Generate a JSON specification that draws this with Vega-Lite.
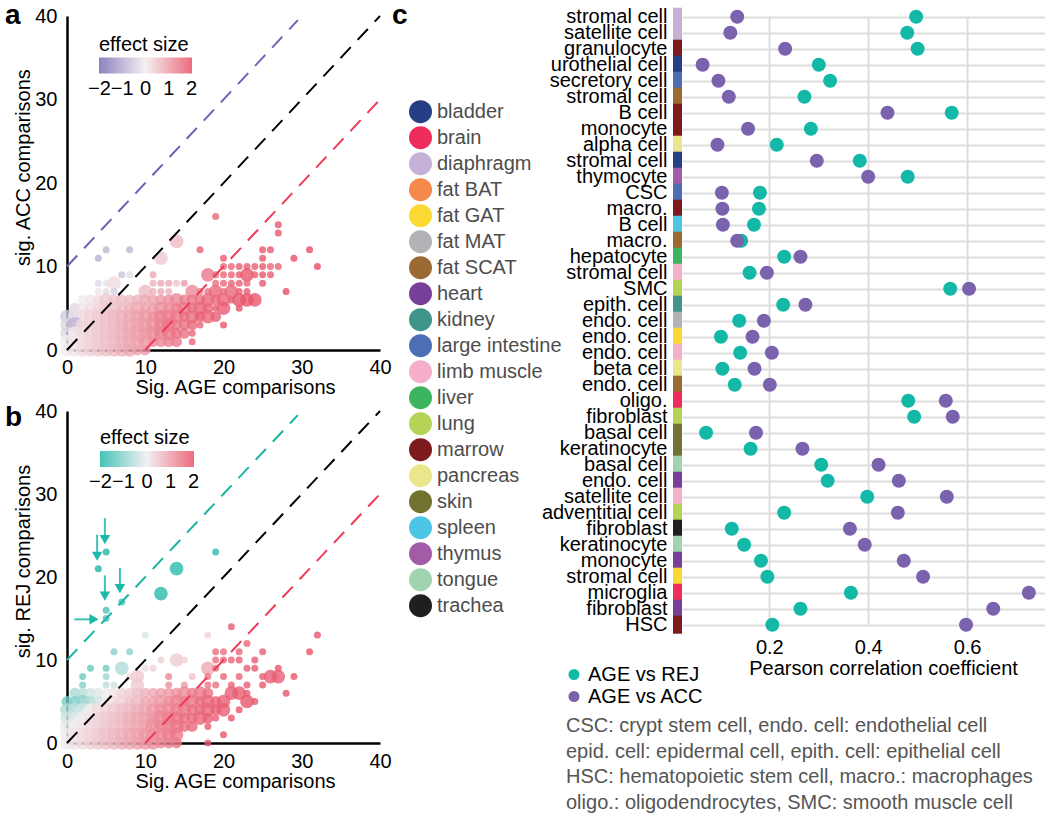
{
  "$schema": "https://vega.github.io/schema/vega-lite/v6.json",
  "padding": {"left": 5, "top": 2, "right": 0, "bottom": 0},
  "config": {
    "font": "Liberation Sans",
    "view": {"stroke": null},
    "axis": {"labelFont": "Liberation Sans", "titleFont": "Liberation Sans", "labelFontSize": 20, "titleFontSize": 20, "titleFontWeight": "normal", "labelColor": "#000000", "titleColor": "#000000", "ticks": false, "tickSize": 0, "grid": false},
    "legend": {"labelFont": "Liberation Sans", "titleFont": "Liberation Sans", "padding": 0},
    "title": {"font": "Liberation Sans"}
  },
  "datasets": {
    "cells": [
      {"row": 1, "cell": "stromal cell", "tissue": "diaphragm", "AGE vs REJ": 0.497, "AGE vs ACC": 0.135},
      {"row": 2, "cell": "satellite cell", "tissue": "diaphragm", "AGE vs REJ": 0.479, "AGE vs ACC": 0.121},
      {"row": 3, "cell": "granulocyte", "tissue": "marrow", "AGE vs REJ": 0.500, "AGE vs ACC": 0.232},
      {"row": 4, "cell": "urothelial cell", "tissue": "bladder", "AGE vs REJ": 0.300, "AGE vs ACC": 0.065},
      {"row": 5, "cell": "secretory cell", "tissue": "large intestine", "AGE vs REJ": 0.323, "AGE vs ACC": 0.097},
      {"row": 6, "cell": "stromal cell", "tissue": "fat SCAT", "AGE vs REJ": 0.271, "AGE vs ACC": 0.118},
      {"row": 7, "cell": "B cell", "tissue": "marrow", "AGE vs REJ": 0.569, "AGE vs ACC": 0.439},
      {"row": 8, "cell": "monocyte", "tissue": "marrow", "AGE vs REJ": 0.284, "AGE vs ACC": 0.157},
      {"row": 9, "cell": "alpha cell", "tissue": "pancreas", "AGE vs REJ": 0.215, "AGE vs ACC": 0.095},
      {"row": 10, "cell": "stromal cell", "tissue": "bladder", "AGE vs REJ": 0.383, "AGE vs ACC": 0.296},
      {"row": 11, "cell": "thymocyte", "tissue": "thymus", "AGE vs REJ": 0.480, "AGE vs ACC": 0.400},
      {"row": 12, "cell": "CSC", "tissue": "large intestine", "AGE vs REJ": 0.181, "AGE vs ACC": 0.104},
      {"row": 13, "cell": "macro.", "tissue": "marrow", "AGE vs REJ": 0.179, "AGE vs ACC": 0.105},
      {"row": 14, "cell": "B cell", "tissue": "spleen", "AGE vs REJ": 0.169, "AGE vs ACC": 0.106},
      {"row": 15, "cell": "macro.", "tissue": "fat SCAT", "AGE vs REJ": 0.143, "AGE vs ACC": 0.135},
      {"row": 16, "cell": "hepatocyte", "tissue": "liver", "AGE vs REJ": 0.230, "AGE vs ACC": 0.263},
      {"row": 17, "cell": "stromal cell", "tissue": "limb muscle", "AGE vs REJ": 0.160, "AGE vs ACC": 0.195},
      {"row": 18, "cell": "SMC", "tissue": "lung", "AGE vs REJ": 0.566, "AGE vs ACC": 0.604},
      {"row": 19, "cell": "epith. cell", "tissue": "kidney", "AGE vs REJ": 0.228, "AGE vs ACC": 0.273},
      {"row": 20, "cell": "endo. cell", "tissue": "fat MAT", "AGE vs REJ": 0.139, "AGE vs ACC": 0.189},
      {"row": 21, "cell": "endo. cell", "tissue": "fat GAT", "AGE vs REJ": 0.102, "AGE vs ACC": 0.166},
      {"row": 22, "cell": "endo. cell", "tissue": "limb muscle", "AGE vs REJ": 0.141, "AGE vs ACC": 0.205},
      {"row": 23, "cell": "beta cell", "tissue": "pancreas", "AGE vs REJ": 0.105, "AGE vs ACC": 0.170},
      {"row": 24, "cell": "endo. cell", "tissue": "fat SCAT", "AGE vs REJ": 0.130, "AGE vs ACC": 0.201},
      {"row": 25, "cell": "oligo.", "tissue": "brain", "AGE vs REJ": 0.481, "AGE vs ACC": 0.557},
      {"row": 26, "cell": "fibroblast", "tissue": "lung", "AGE vs REJ": 0.493, "AGE vs ACC": 0.571},
      {"row": 27, "cell": "basal cell", "tissue": "skin", "AGE vs REJ": 0.072, "AGE vs ACC": 0.173},
      {"row": 28, "cell": "keratinocyte", "tissue": "skin", "AGE vs REJ": 0.162, "AGE vs ACC": 0.267},
      {"row": 29, "cell": "basal cell", "tissue": "tongue", "AGE vs REJ": 0.305, "AGE vs ACC": 0.421},
      {"row": 30, "cell": "endo. cell", "tissue": "heart", "AGE vs REJ": 0.318, "AGE vs ACC": 0.462},
      {"row": 31, "cell": "satellite cell", "tissue": "limb muscle", "AGE vs REJ": 0.398, "AGE vs ACC": 0.559},
      {"row": 32, "cell": "adventitial cell", "tissue": "lung", "AGE vs REJ": 0.230, "AGE vs ACC": 0.460},
      {"row": 33, "cell": "fibroblast", "tissue": "trachea", "AGE vs REJ": 0.124, "AGE vs ACC": 0.363},
      {"row": 34, "cell": "keratinocyte", "tissue": "tongue", "AGE vs REJ": 0.149, "AGE vs ACC": 0.393},
      {"row": 35, "cell": "monocyte", "tissue": "heart", "AGE vs REJ": 0.183, "AGE vs ACC": 0.472},
      {"row": 36, "cell": "stromal cell", "tissue": "fat GAT", "AGE vs REJ": 0.196, "AGE vs ACC": 0.511},
      {"row": 37, "cell": "microglia", "tissue": "brain", "AGE vs REJ": 0.365, "AGE vs ACC": 0.725},
      {"row": 38, "cell": "fibroblast", "tissue": "heart", "AGE vs REJ": 0.263, "AGE vs ACC": 0.653},
      {"row": 39, "cell": "HSC", "tissue": "marrow", "AGE vs REJ": 0.206, "AGE vs ACC": 0.598}
    ],
    "pa": [
      {"x":19,"y":16,"e":1.6,"n":1},{"x":27,"y":15,"e":1.8,"n":1},{"x":27,"y":14,"e":1.8,"n":1},{"x":14,"y":13,"e":0.6,"n":3},
      {"x":5,"y":12,"e":-0.8,"n":1},{"x":8,"y":12,"e":-0.8,"n":1},{"x":17,"y":12,"e":1.7,"n":1},{"x":25,"y":12,"e":1.8,"n":1},{"x":26,"y":12,"e":1.8,"n":1},{"x":31,"y":12,"e":1.9,"n":1},
      {"x":4,"y":11,"e":-0.9,"n":1},{"x":12,"y":11,"e":0.4,"n":3},{"x":20,"y":11,"e":1.7,"n":1},{"x":25,"y":11,"e":1.8,"n":1},{"x":29,"y":11,"e":1.9,"n":1},
      {"x":32,"y":10,"e":1.9,"n":1},{"x":20,"y":10,"e":1.6,"n":1},{"x":21,"y":10,"e":1.6,"n":1},{"x":22,"y":10,"e":1.7,"n":1},{"x":23,"y":10,"e":1.7,"n":1},{"x":24,"y":10,"e":1.7,"n":1},{"x":25,"y":10,"e":1.8,"n":1},{"x":26,"y":10,"e":1.6,"n":1},{"x":27,"y":10,"e":1.6,"n":1},
      {"x":7,"y":9,"e":-0.6,"n":1},{"x":8,"y":9,"e":-0.2,"n":1},{"x":11,"y":9,"e":0.8,"n":1},{"x":18,"y":9,"e":1.4,"n":3},{"x":19,"y":9,"e":1.5,"n":1},{"x":20,"y":9,"e":1.6,"n":1},{"x":21,"y":9,"e":1.6,"n":1},{"x":22,"y":9,"e":1.7,"n":1},{"x":23,"y":9,"e":1.8,"n":3},{"x":24,"y":9,"e":1.7,"n":1},{"x":25,"y":9,"e":1.8,"n":1},{"x":26,"y":9,"e":1.7,"n":1},
      {"x":4,"y":8,"e":-0.3,"n":1},{"x":5,"y":8,"e":-0.1,"n":1},{"x":6,"y":8,"e":0.2,"n":3},{"x":11,"y":8,"e":0.7,"n":1},{"x":12,"y":8,"e":0.8,"n":1},{"x":13,"y":8,"e":0.8,"n":1},{"x":14,"y":8,"e":0.5,"n":1},{"x":15,"y":8,"e":1.0,"n":1},{"x":19,"y":8,"e":1.5,"n":1},{"x":20,"y":8,"e":1.6,"n":1},{"x":21,"y":8,"e":1.6,"n":1},{"x":22,"y":8,"e":1.7,"n":1},{"x":23,"y":8,"e":1.6,"n":1},{"x":25,"y":8,"e":1.8,"n":1},
      {"x":4,"y":7,"e":-0.1,"n":1},{"x":5,"y":7,"e":-0.2,"n":1},{"x":6,"y":7,"e":-0.4,"n":1},{"x":10,"y":7,"e":0.6,"n":3},{"x":11,"y":7,"e":0.7,"n":1},{"x":12,"y":7,"e":0.8,"n":1},{"x":13,"y":7,"e":0.7,"n":1},{"x":16,"y":7,"e":1.2,"n":3},{"x":17,"y":7,"e":1.3,"n":1},{"x":18,"y":7,"e":1.4,"n":1},{"x":19,"y":7,"e":1.6,"n":3},{"x":20,"y":7,"e":1.5,"n":1},{"x":21,"y":7,"e":1.6,"n":3},{"x":22,"y":7,"e":1.7,"n":1},{"x":23,"y":7,"e":1.7,"n":1},{"x":28,"y":7,"e":1.9,"n":1},
      {"x":2,"y":6,"e":0.0,"n":2},{"x":3,"y":6,"e":0.1,"n":2},{"x":4,"y":6,"e":0.2,"n":2},{"x":5,"y":6,"e":0.4,"n":3},{"x":6,"y":6,"e":0.5,"n":2},{"x":7,"y":6,"e":0.6,"n":2},{"x":8,"y":6,"e":0.6,"n":2},{"x":9,"y":6,"e":0.7,"n":2},{"x":10,"y":6,"e":0.8,"n":2},{"x":11,"y":6,"e":0.9,"n":2},{"x":12,"y":6,"e":1.0,"n":2},{"x":13,"y":6,"e":1.1,"n":2},{"x":14,"y":6,"e":1.2,"n":3},{"x":15,"y":6,"e":1.3,"n":2},{"x":16,"y":6,"e":1.4,"n":2},{"x":17,"y":6,"e":1.5,"n":2},{"x":18,"y":6,"e":1.6,"n":3},{"x":19,"y":6,"e":1.5,"n":2},{"x":20,"y":6,"e":1.6,"n":3},{"x":21,"y":6,"e":1.7,"n":1},{"x":22,"y":6,"e":1.8,"n":3},{"x":23,"y":6,"e":1.8,"n":3},{"x":24,"y":6,"e":1.8,"n":3},
      {"x":1,"y":5,"e":-0.3,"n":2},{"x":2,"y":5,"e":0.1,"n":2},{"x":3,"y":5,"e":0.2,"n":2},{"x":4,"y":5,"e":0.3,"n":2},{"x":5,"y":5,"e":0.4,"n":3},{"x":6,"y":5,"e":0.5,"n":3},{"x":7,"y":5,"e":0.6,"n":2},{"x":8,"y":5,"e":0.7,"n":2},{"x":9,"y":5,"e":0.8,"n":3},{"x":10,"y":5,"e":0.9,"n":2},{"x":11,"y":5,"e":1.0,"n":2},{"x":12,"y":5,"e":1.1,"n":3},{"x":13,"y":5,"e":1.2,"n":2},{"x":14,"y":5,"e":1.3,"n":2},{"x":15,"y":5,"e":1.4,"n":3},{"x":16,"y":5,"e":1.5,"n":2},{"x":17,"y":5,"e":1.6,"n":3},{"x":18,"y":5,"e":1.6,"n":2},{"x":19,"y":5,"e":1.7,"n":1},{"x":20,"y":5,"e":1.7,"n":3},{"x":22,"y":5,"e":1.8,"n":1},
      {"x":0,"y":4,"e":-0.5,"n":3},{"x":1,"y":4,"e":-0.2,"n":3},{"x":2,"y":4,"e":0.2,"n":3},{"x":3,"y":4,"e":0.3,"n":3},{"x":4,"y":4,"e":0.4,"n":3},{"x":5,"y":4,"e":0.5,"n":3},{"x":6,"y":4,"e":0.6,"n":3},{"x":7,"y":4,"e":0.7,"n":3},{"x":8,"y":4,"e":0.8,"n":3},{"x":9,"y":4,"e":0.9,"n":3},{"x":10,"y":4,"e":1.0,"n":3},{"x":11,"y":4,"e":1.1,"n":2},{"x":12,"y":4,"e":1.3,"n":3},{"x":13,"y":4,"e":1.3,"n":3},{"x":14,"y":4,"e":1.4,"n":3},{"x":15,"y":4,"e":1.5,"n":2},{"x":16,"y":4,"e":1.5,"n":3},{"x":17,"y":4,"e":1.7,"n":2},{"x":18,"y":4,"e":1.6,"n":3},{"x":19,"y":4,"e":1.7,"n":2},
      {"x":0,"y":3,"e":-0.3,"n":3},{"x":1,"y":3,"e":-0.8,"n":4},{"x":2,"y":3,"e":0.2,"n":3},{"x":3,"y":3,"e":0.3,"n":3},{"x":4,"y":3,"e":0.4,"n":3},{"x":5,"y":3,"e":0.5,"n":3},{"x":6,"y":3,"e":0.6,"n":3},{"x":7,"y":3,"e":0.7,"n":3},{"x":8,"y":3,"e":0.8,"n":3},{"x":9,"y":3,"e":0.9,"n":3},{"x":10,"y":3,"e":1.0,"n":3},{"x":11,"y":3,"e":1.1,"n":3},{"x":12,"y":3,"e":1.3,"n":3},{"x":13,"y":3,"e":1.4,"n":3},{"x":14,"y":3,"e":1.4,"n":2},{"x":15,"y":3,"e":1.5,"n":2},{"x":16,"y":3,"e":1.6,"n":2},{"x":17,"y":3,"e":1.6,"n":1},{"x":20,"y":3,"e":1.8,"n":1},
      {"x":0,"y":2,"e":-0.3,"n":3},{"x":1,"y":2,"e":0.0,"n":3},{"x":2,"y":2,"e":0.2,"n":3},{"x":3,"y":2,"e":0.3,"n":3},{"x":4,"y":2,"e":0.4,"n":3},{"x":5,"y":2,"e":0.5,"n":3},{"x":6,"y":2,"e":0.6,"n":3},{"x":7,"y":2,"e":0.7,"n":3},{"x":8,"y":2,"e":0.8,"n":3},{"x":9,"y":2,"e":0.9,"n":4},{"x":10,"y":2,"e":1.0,"n":3},{"x":11,"y":2,"e":1.1,"n":3},{"x":12,"y":2,"e":1.3,"n":3},{"x":13,"y":2,"e":1.4,"n":3},{"x":14,"y":2,"e":1.5,"n":2},{"x":15,"y":2,"e":1.5,"n":2},{"x":16,"y":2,"e":1.6,"n":1},
      {"x":0,"y":1,"e":0.0,"n":3},{"x":1,"y":1,"e":0.1,"n":3},{"x":2,"y":1,"e":0.2,"n":3},{"x":3,"y":1,"e":0.3,"n":3},{"x":4,"y":1,"e":0.4,"n":3},{"x":5,"y":1,"e":0.5,"n":3},{"x":6,"y":1,"e":0.6,"n":3},{"x":7,"y":1,"e":0.7,"n":3},{"x":8,"y":1,"e":0.8,"n":3},{"x":9,"y":1,"e":0.9,"n":3},{"x":10,"y":1,"e":1.0,"n":3},{"x":11,"y":1,"e":1.1,"n":2},{"x":12,"y":1,"e":1.2,"n":2},{"x":13,"y":1,"e":1.3,"n":2},{"x":14,"y":1,"e":1.4,"n":2},{"x":16,"y":1,"e":1.6,"n":1},
      {"x":0,"y":0,"e":0.0,"n":3},{"x":1,"y":0,"e":0.1,"n":3},{"x":2,"y":0,"e":0.2,"n":3},{"x":3,"y":0,"e":0.3,"n":3},{"x":4,"y":0,"e":0.4,"n":3},{"x":5,"y":0,"e":0.5,"n":3},{"x":6,"y":0,"e":0.6,"n":3},{"x":7,"y":0,"e":0.7,"n":3},{"x":8,"y":0,"e":0.8,"n":3},{"x":9,"y":0,"e":0.9,"n":2},{"x":10,"y":0,"e":1.0,"n":2}
    ],
    "pb": [
      {"x":5,"y":23,"e":-1.9,"n":1},{"x":4,"y":21,"e":-1.9,"n":1},{"x":14,"y":21,"e":-1.8,"n":3},{"x":19,"y":23,"e":-1.8,"n":1},{"x":12,"y":18,"e":-1.8,"n":3},{"x":7,"y":17,"e":-1.6,"n":1},{"x":5,"y":16,"e":-1.5,"n":1},{"x":5,"y":15,"e":-1.4,"n":1},
      {"x":10,"y":13,"e":-0.2,"n":1},{"x":18,"y":13,"e":0.3,"n":1},{"x":21,"y":14,"e":1.7,"n":1},{"x":32,"y":13,"e":1.8,"n":1},{"x":31,"y":11,"e":1.8,"n":1},{"x":23,"y":12,"e":1.6,"n":1},
      {"x":6,"y":11,"e":-1.0,"n":1},{"x":8,"y":11,"e":-0.9,"n":1},{"x":19,"y":11,"e":1.5,"n":1},{"x":20,"y":11,"e":1.5,"n":1},{"x":22,"y":11,"e":1.6,"n":1},{"x":25,"y":11,"e":1.7,"n":1},
      {"x":12,"y":10,"e":0.3,"n":1},{"x":14,"y":10,"e":0.4,"n":3},{"x":15,"y":10,"e":0.3,"n":1},{"x":19,"y":10,"e":1.5,"n":1},{"x":20,"y":10,"e":1.6,"n":1},{"x":21,"y":10,"e":1.6,"n":1},{"x":22,"y":10,"e":1.7,"n":1},{"x":24,"y":10,"e":1.7,"n":1},
      {"x":3,"y":9,"e":-1.3,"n":1},{"x":5,"y":9,"e":-1.2,"n":1},{"x":7,"y":9,"e":-0.6,"n":3},{"x":10,"y":9,"e":0.2,"n":1},{"x":11,"y":9,"e":0.3,"n":1},{"x":18,"y":9,"e":0.8,"n":3},{"x":19,"y":9,"e":1.5,"n":1},{"x":23,"y":9,"e":1.7,"n":1},{"x":24,"y":9,"e":1.7,"n":1},{"x":27,"y":9,"e":1.8,"n":1},
      {"x":2,"y":8,"e":-1.2,"n":1},{"x":5,"y":8,"e":-0.8,"n":1},{"x":8,"y":8,"e":0.2,"n":1},{"x":9,"y":8,"e":0.4,"n":3},{"x":13,"y":8,"e":1.2,"n":1},{"x":16,"y":8,"e":0.5,"n":1},{"x":18,"y":8,"e":1.4,"n":1},{"x":20,"y":8,"e":1.6,"n":1},{"x":22,"y":8,"e":1.6,"n":1},{"x":25,"y":8,"e":1.7,"n":1},{"x":26,"y":8,"e":1.7,"n":3},{"x":27,"y":8,"e":1.7,"n":3},{"x":29,"y":8,"e":1.8,"n":1},
      {"x":2,"y":7,"e":-1.0,"n":1},{"x":5,"y":7,"e":-0.5,"n":1},{"x":6,"y":7,"e":-0.3,"n":1},{"x":9,"y":7,"e":0.4,"n":3},{"x":13,"y":7,"e":1.1,"n":1},{"x":15,"y":7,"e":1.0,"n":1},{"x":18,"y":7,"e":1.4,"n":1},{"x":19,"y":7,"e":1.5,"n":1},{"x":21,"y":7,"e":1.6,"n":1},{"x":23,"y":7,"e":1.7,"n":1},{"x":25,"y":7,"e":1.8,"n":1},
      {"x":1,"y":6,"e":-0.7,"n":2},{"x":2,"y":6,"e":-0.5,"n":2},{"x":3,"y":6,"e":-0.3,"n":2},{"x":4,"y":6,"e":-0.2,"n":2},{"x":5,"y":6,"e":0.0,"n":2},{"x":6,"y":6,"e":0.1,"n":2},{"x":7,"y":6,"e":0.3,"n":2},{"x":8,"y":6,"e":0.4,"n":2},{"x":9,"y":6,"e":0.5,"n":2},{"x":10,"y":6,"e":0.7,"n":2},{"x":11,"y":6,"e":0.8,"n":2},{"x":12,"y":6,"e":0.9,"n":2},{"x":13,"y":6,"e":1.0,"n":2},{"x":14,"y":6,"e":1.1,"n":2},{"x":15,"y":6,"e":1.2,"n":3},{"x":16,"y":6,"e":1.3,"n":2},{"x":17,"y":6,"e":1.4,"n":3},{"x":18,"y":6,"e":1.5,"n":2},{"x":21,"y":6,"e":1.7,"n":3},{"x":22,"y":6,"e":1.7,"n":3},{"x":23,"y":6,"e":1.7,"n":1},{"x":28,"y":6,"e":1.8,"n":1},
      {"x":0,"y":5,"e":-1.2,"n":2},{"x":1,"y":5,"e":-1.0,"n":2},{"x":2,"y":5,"e":-0.9,"n":3},{"x":3,"y":5,"e":-0.6,"n":2},{"x":4,"y":5,"e":-0.3,"n":2},{"x":5,"y":5,"e":0.0,"n":2},{"x":6,"y":5,"e":0.2,"n":2},{"x":7,"y":5,"e":0.3,"n":3},{"x":8,"y":5,"e":0.5,"n":2},{"x":9,"y":5,"e":0.6,"n":3},{"x":10,"y":5,"e":0.8,"n":2},{"x":11,"y":5,"e":0.9,"n":2},{"x":12,"y":5,"e":1.0,"n":3},{"x":13,"y":5,"e":1.1,"n":2},{"x":14,"y":5,"e":1.3,"n":3},{"x":15,"y":5,"e":1.3,"n":2},{"x":16,"y":5,"e":1.4,"n":3},{"x":17,"y":5,"e":1.5,"n":2},{"x":18,"y":5,"e":1.6,"n":3},{"x":19,"y":5,"e":1.6,"n":2},{"x":20,"y":5,"e":1.7,"n":3},{"x":23,"y":5,"e":1.8,"n":3},{"x":24,"y":5,"e":1.8,"n":1},
      {"x":0,"y":4,"e":-0.6,"n":3},{"x":1,"y":4,"e":-0.5,"n":3},{"x":2,"y":4,"e":-0.3,"n":3},{"x":3,"y":4,"e":0.0,"n":3},{"x":4,"y":4,"e":0.2,"n":3},{"x":5,"y":4,"e":0.3,"n":3},{"x":6,"y":4,"e":0.4,"n":3},{"x":7,"y":4,"e":0.5,"n":3},{"x":8,"y":4,"e":0.6,"n":3},{"x":9,"y":4,"e":0.7,"n":3},{"x":10,"y":4,"e":0.8,"n":3},{"x":11,"y":4,"e":1.0,"n":3},{"x":12,"y":4,"e":1.1,"n":3},{"x":13,"y":4,"e":1.2,"n":3},{"x":14,"y":4,"e":1.3,"n":3},{"x":15,"y":4,"e":1.4,"n":3},{"x":16,"y":4,"e":1.5,"n":2},{"x":17,"y":4,"e":1.6,"n":2},{"x":18,"y":4,"e":1.6,"n":3},{"x":19,"y":4,"e":1.7,"n":2},{"x":20,"y":4,"e":1.7,"n":3},{"x":22,"y":4,"e":1.8,"n":1},
      {"x":0,"y":3,"e":-0.3,"n":3},{"x":1,"y":3,"e":-0.2,"n":3},{"x":2,"y":3,"e":0.0,"n":3},{"x":3,"y":3,"e":0.1,"n":3},{"x":4,"y":3,"e":0.3,"n":3},{"x":5,"y":3,"e":0.4,"n":3},{"x":6,"y":3,"e":0.5,"n":3},{"x":7,"y":3,"e":0.6,"n":3},{"x":8,"y":3,"e":0.7,"n":3},{"x":9,"y":3,"e":0.8,"n":3},{"x":10,"y":3,"e":0.9,"n":3},{"x":11,"y":3,"e":1.0,"n":3},{"x":12,"y":3,"e":1.2,"n":4},{"x":13,"y":3,"e":1.3,"n":3},{"x":14,"y":3,"e":1.4,"n":3},{"x":15,"y":3,"e":1.5,"n":2},{"x":16,"y":3,"e":1.6,"n":2},{"x":17,"y":3,"e":1.6,"n":3},{"x":18,"y":3,"e":1.7,"n":2},{"x":19,"y":3,"e":1.7,"n":1},{"x":21,"y":3,"e":1.8,"n":1},
      {"x":0,"y":2,"e":-0.1,"n":3},{"x":1,"y":2,"e":0.0,"n":3},{"x":2,"y":2,"e":0.1,"n":3},{"x":3,"y":2,"e":0.2,"n":3},{"x":4,"y":2,"e":0.3,"n":3},{"x":5,"y":2,"e":0.4,"n":3},{"x":6,"y":2,"e":0.5,"n":3},{"x":7,"y":2,"e":0.6,"n":3},{"x":8,"y":2,"e":0.7,"n":3},{"x":9,"y":2,"e":0.8,"n":3},{"x":10,"y":2,"e":0.9,"n":3},{"x":11,"y":2,"e":1.1,"n":4},{"x":12,"y":2,"e":1.2,"n":3},{"x":13,"y":2,"e":1.3,"n":3},{"x":14,"y":2,"e":1.4,"n":3},{"x":15,"y":2,"e":1.5,"n":2},{"x":16,"y":2,"e":1.6,"n":2},{"x":18,"y":2,"e":1.7,"n":1},
      {"x":0,"y":1,"e":0.0,"n":3},{"x":1,"y":1,"e":0.1,"n":3},{"x":2,"y":1,"e":0.2,"n":3},{"x":3,"y":1,"e":0.3,"n":3},{"x":4,"y":1,"e":0.4,"n":3},{"x":5,"y":1,"e":0.5,"n":4},{"x":6,"y":1,"e":0.6,"n":3},{"x":7,"y":1,"e":0.7,"n":3},{"x":8,"y":1,"e":0.8,"n":3},{"x":9,"y":1,"e":0.9,"n":3},{"x":10,"y":1,"e":1.0,"n":3},{"x":11,"y":1,"e":1.1,"n":3},{"x":12,"y":1,"e":1.2,"n":3},{"x":13,"y":1,"e":1.3,"n":3},{"x":14,"y":1,"e":1.4,"n":3},{"x":20,"y":1,"e":1.8,"n":1},
      {"x":0,"y":0,"e":0.0,"n":3},{"x":1,"y":0,"e":0.1,"n":3},{"x":2,"y":0,"e":0.2,"n":3},{"x":3,"y":0,"e":0.3,"n":3},{"x":4,"y":0,"e":0.4,"n":3},{"x":5,"y":0,"e":0.5,"n":3},{"x":6,"y":0,"e":0.6,"n":3},{"x":7,"y":0,"e":0.7,"n":3},{"x":8,"y":0,"e":0.8,"n":3},{"x":9,"y":0,"e":0.9,"n":3},{"x":10,"y":0,"e":1.0,"n":3},{"x":11,"y":0,"e":1.1,"n":3},{"x":12,"y":0,"e":1.2,"n":2},{"x":13,"y":0,"e":1.3,"n":2},{"x":14,"y":0,"e":1.4,"n":2},{"x":18,"y":0,"e":1.8,"n":1}
    ],
    "lines": [
      {"line": "upper", "x1": 0, "y1": 10, "x2": 29.5, "y2": 39.5},
      {"line": "equal", "x1": 0, "y1": 0, "x2": 40, "y2": 40},
      {"line": "lower", "x1": 10, "y1": 0, "x2": 40, "y2": 30}
    ],
    "arrows": [
      {"x1": 4.84, "y1": 27.1, "x2": 4.84, "y2": 24.5},
      {"x1": 3.85, "y1": 25.1, "x2": 3.85, "y2": 22.5},
      {"x1": 4.84, "y1": 20.2, "x2": 4.84, "y2": 17.7},
      {"x1": 6.76, "y1": 21.1, "x2": 6.76, "y2": 18.6},
      {"x1": 0.94, "y1": 14.9, "x2": 3.45, "y2": 14.9}
    ],
    "heads": [
      {"x": 4.84, "y": 24.5, "dir": "down"},
      {"x": 3.85, "y": 22.5, "dir": "down"},
      {"x": 4.84, "y": 17.7, "dir": "down"},
      {"x": 6.76, "y": 18.6, "dir": "down"},
      {"x": 3.45, "y": 14.9, "dir": "right"}
    ]
  },
  "bounds": "flush",
  "spacing": 606,
  "resolve": {"scale": {"x": "independent", "y": "independent", "color": "independent", "size": "independent", "stroke": "independent", "shape": "independent"}, "legend": {"color": "independent", "size": "independent", "stroke": "independent", "shape": "independent"}},
  "hconcat": [
    {
      "bounds": "flush",
      "spacing": 61,
      "resolve": {"scale": {"x": "independent", "y": "independent", "color": "independent", "size": "independent", "stroke": "independent", "shape": "independent"}, "legend": {"color": "independent", "size": "independent", "stroke": "independent", "shape": "independent"}},
      "vconcat": [
        {
          "width": 313, "height": 334,
          "title": {"text": "a", "orient": "top", "anchor": "start", "frame": "group", "fontSize": 28, "fontWeight": "bold", "color": "#000000", "baseline": "alphabetic", "offset": 0, "dx": -62, "dy": 46},
          "layer": [
            {
              "data": {"name": "pa"},
              "mark": {"type": "circle", "opacity": 0.8},
              "encoding": {
                "x": {"field": "x", "type": "quantitative", "scale": {"domain": [0, 40], "nice": false, "zero": false}, "axis": {"values": [0, 10, 20, 30, 40], "title": "Sig. AGE comparisons", "domainColor": "#000000", "domainWidth": 2.5, "labelPadding": 7, "titleX": 168, "titleY": 27, "titleBaseline": "top", "labelFlush": false}},
                "y": {"field": "y", "type": "quantitative", "scale": {"domain": [0, 40], "nice": false, "zero": false}, "axis": {"values": [0, 10, 20, 30, 40], "title": "sig. ACC comparisons", "domainColor": "#000000", "domainWidth": 2.5, "labelPadding": 10, "titleX": -38, "titleY": 151, "titleBaseline": "alphabetic", "labelFlush": false}},
                "color": {"field": "e", "type": "quantitative", "scale": {"domain": [-2, 0, 2], "range": ["#7262B0", "#F1ECEE", "#E8455D"], "interpolate": "rgb", "clamp": true},
                  "legend": {"orient": "none", "legendX": 32, "legendY": 18.5, "direction": "horizontal", "title": "effect size", "titleFontSize": 20, "titleFontWeight": "normal", "titleColor": "#000000", "titlePadding": 3, "titleAnchor": "start", "gradientLength": 93, "gradientThickness": 16, "gradientStrokeWidth": 0, "values": [-1.98, -1, 0, 1, 1.98], "format": ".0f", "labelFontSize": 20, "labelColor": "#000000", "labelOffset": 5, "labelOverlap": false}},
                "size": {"field": "n", "type": "quantitative", "scale": {"domain": [1, 4], "range": [49, 256], "zero": false}, "legend": null}
              }
            },
            {
              "data": {"name": "lines"},
              "mark": {"type": "rule", "strokeWidth": 2, "strokeDash": [15, 10]},
              "encoding": {
                "x": {"field": "x1", "type": "quantitative"},
                "y": {"field": "y1", "type": "quantitative"},
                "x2": {"field": "x2"},
                "y2": {"field": "y2"},
                "stroke": {"field": "line", "type": "nominal", "scale": {"domain": ["upper", "equal", "lower"], "range": ["#6E5FB8", "#000000", "#EE3A55"]}, "legend": null}
              }
            }
          ]
        },
        {
          "width": 313, "height": 332,
          "title": {"text": "b", "orient": "top", "anchor": "start", "frame": "group", "fontSize": 28, "fontWeight": "bold", "color": "#000000", "baseline": "alphabetic", "offset": 0, "dx": -62, "dy": 53},
          "layer": [
            {
              "data": {"name": "pb"},
              "mark": {"type": "circle", "opacity": 0.8},
              "encoding": {
                "x": {"field": "x", "type": "quantitative", "scale": {"domain": [0, 40], "nice": false, "zero": false}, "axis": {"values": [0, 10, 20, 30, 40], "title": "Sig. AGE comparisons", "domainColor": "#000000", "domainWidth": 2.5, "labelPadding": 8, "titleX": 168, "titleY": 28, "titleBaseline": "top", "labelFlush": false}},
                "y": {"field": "y", "type": "quantitative", "scale": {"domain": [0, 40], "nice": false, "zero": false}, "axis": {"values": [0, 10, 20, 30, 40], "title": "sig. REJ comparisons", "domainColor": "#000000", "domainWidth": 2.5, "labelPadding": 10, "titleX": -38, "titleY": 150, "titleBaseline": "alphabetic", "labelFlush": false}},
                "color": {"field": "e", "type": "quantitative", "scale": {"domain": [-2, 0, 2], "range": ["#16B5A5", "#F1ECEE", "#E8455D"], "interpolate": "rgb", "clamp": true},
                  "legend": {"orient": "none", "legendX": 33, "legendY": 17, "direction": "horizontal", "title": "effect size", "titleFontSize": 20, "titleFontWeight": "normal", "titleColor": "#000000", "titlePadding": 3, "titleAnchor": "start", "gradientLength": 94, "gradientThickness": 16, "gradientStrokeWidth": 0, "values": [-1.98, -1, 0, 1, 1.98], "format": ".0f", "labelFontSize": 20, "labelColor": "#000000", "labelOffset": 5, "labelOverlap": false}},
                "size": {"field": "n", "type": "quantitative", "scale": {"domain": [1, 4], "range": [49, 256], "zero": false}, "legend": null}
              }
            },
            {
              "data": {"name": "lines"},
              "mark": {"type": "rule", "strokeWidth": 2, "strokeDash": [15, 10]},
              "encoding": {
                "x": {"field": "x1", "type": "quantitative"},
                "y": {"field": "y1", "type": "quantitative"},
                "x2": {"field": "x2"},
                "y2": {"field": "y2"},
                "stroke": {"field": "line", "type": "nominal", "scale": {"domain": ["upper", "equal", "lower"], "range": ["#19B4A4", "#000000", "#EE3A55"]}, "legend": null}
              }
            },
            {
              "data": {"name": "arrows"},
              "mark": {"type": "rule", "strokeWidth": 2, "color": "#1DB9A8", "opacity": 0.85},
              "encoding": {
                "x": {"field": "x1", "type": "quantitative"},
                "y": {"field": "y1", "type": "quantitative"},
                "x2": {"field": "x2"},
                "y2": {"field": "y2"}
              }
            },
            {
              "data": {"name": "heads"},
              "mark": {"type": "point", "filled": true, "size": 110, "color": "#1DB9A8", "opacity": 1},
              "encoding": {
                "x": {"field": "x", "type": "quantitative"},
                "y": {"field": "y", "type": "quantitative"},
                "shape": {"field": "dir", "type": "nominal", "scale": {"domain": ["down", "right"], "range": ["triangle-down", "triangle-right"]}, "legend": null}
              }
            }
          ]
        }
      ]
    },
    {
      "bounds": "flush",
      "spacing": 0,
      "resolve": {"scale": {"x": "independent", "y": "independent", "color": "independent", "size": "independent"}, "legend": {"color": "independent", "size": "independent"}},
      "hconcat": [
        {
          "width": 9, "height": 609.4,
          "title": {"text": "c", "orient": "top", "anchor": "start", "frame": "group", "fontSize": 28, "fontWeight": "bold", "color": "#000000", "baseline": "alphabetic", "offset": 0, "dx": -281, "dy": 45.3},
          "data": {"name": "cells"},
          "layer": [
            {
              "mark": {"type": "bar", "size": 16},
              "encoding": {
                "y": {"field": "row", "type": "ordinal", "scale": {"type": "point", "padding": 0.044}, "axis": null},
                "color": {"field": "tissue", "type": "nominal",
                  "scale": {"domain": ["bladder", "brain", "diaphragm", "fat BAT", "fat GAT", "fat MAT", "fat SCAT", "heart", "kidney", "large intestine", "limb muscle", "liver", "lung", "marrow", "pancreas", "skin", "spleen", "thymus", "tongue", "trachea"],
                            "range": ["#263E85", "#EE2B5B", "#C6B1D6", "#F5884B", "#FBD933", "#B2B3B6", "#9B6933", "#783F99", "#3F958A", "#4D6DB5", "#F6AFCB", "#3DB45E", "#B5D457", "#7C1A1E", "#EAE68D", "#727330", "#4CC6E4", "#A25BA6", "#A0D4B1", "#1F1F1F"]},
                  "legend": {"orient": "none", "legendX": -264, "legendY": 84.2, "title": null, "symbolType": "circle", "symbolSize": 529, "symbolStrokeWidth": 0, "symbolOpacity": 1, "labelFontSize": 20, "labelColor": "#4D4D4D", "labelOffset": 5, "rowPadding": 3, "labelLimit": 400}}
              }
            },
            {
              "mark": {"type": "text", "align": "right", "baseline": "middle", "dx": -10, "fontSize": 20, "color": "#000000"},
              "encoding": {
                "y": {"field": "row", "type": "ordinal"},
                "text": {"field": "cell"}
              }
            }
          ]
        },
        {
          "width": 363, "height": 609.4,
          "title": {"text": ["CSC: crypt stem cell, endo. cell: endothelial cell", "epid. cell: epidermal cell, epith. cell: epithelial cell", "HSC: hematopoietic stem cell, macro.: macrophages", "oligo.: oligodendrocytes, SMC: smooth muscle cell"], "orient": "bottom", "anchor": "start", "frame": "group", "align": "left", "baseline": "top", "fontSize": 20, "fontWeight": "normal", "color": "#555555", "lineHeight": 25.7, "offset": 9.5, "dx": -116},
          "data": {"name": "cells"},
          "transform": [{"fold": ["AGE vs REJ", "AGE vs ACC"], "as": ["series", "r"]}],
          "mark": {"type": "circle", "size": 196, "opacity": 1},
          "encoding": {
            "y": {"field": "row", "type": "ordinal", "scale": {"type": "point", "padding": 0.044}, "axis": {"labels": false, "ticks": false, "domain": false, "grid": true, "gridColor": "#DDDDDD", "gridWidth": 2, "title": null}},
            "x": {"field": "r", "type": "quantitative", "scale": {"domain": [0.0233, 0.7577], "nice": false, "zero": false}, "axis": {"values": [0.2, 0.4, 0.6], "format": ".1f", "grid": true, "gridColor": "#DDDDDD", "gridWidth": 2, "domain": false, "labelPadding": 12.5, "title": "Pearson correlation coefficient", "titleX": 201, "titleY": 32.6, "titleBaseline": "top", "labelFlush": false}},
            "color": {"field": "series", "type": "nominal", "scale": {"domain": ["AGE vs REJ", "AGE vs ACC"], "range": ["#14B8A6", "#7A62AD"]},
              "legend": {"orient": "none", "legendX": -118, "legendY": 648.5, "title": null, "symbolType": "circle", "symbolSize": 121, "symbolStrokeWidth": 0, "symbolOpacity": 1, "labelFontSize": 20, "labelColor": "#000000", "labelOffset": 4, "rowPadding": 2}}
          }
        }
      ]
    }
  ]
}
